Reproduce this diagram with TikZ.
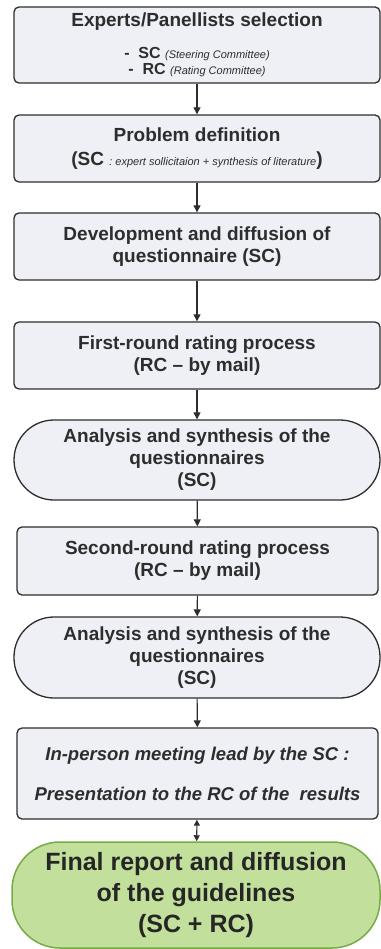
\documentclass[tikz,border=0pt]{standalone}
\usepackage{fontspec}
\setmainfont{Liberation Sans}
\usepackage{tikz}
\usetikzlibrary{arrows.meta,shapes,positioning}
\usepackage{xcolor}
\definecolor{dpgrey}{RGB}{45,45,45}
\definecolor{dpfill}{RGB}{238,240,246}
\definecolor{dpgreen}{RGB}{118,172,70}
\definecolor{dplightgreen}{RGB}{194,224,156}
\tikzstyle{arrow} = [line width=1.1pt,-{Triangle[length=7pt,width=7pt]},color=dpgrey]
\tikzstyle{dblarrow} = [line width=1.1pt,{Triangle[length=6pt,width=6pt]}-{Triangle[length=6pt,width=6pt]},color=dpgrey]
\tikzstyle{stepbox} = [rectangle, rounded corners=5pt, minimum width=366pt, minimum height=67pt, text centered, align=center, draw=dpgrey, fill=dpfill, line width=1.3pt, text=dpgrey, inner sep=0pt, font=\fontsize{19}{22}\selectfont\bfseries]
\tikzstyle{roundbox} = [stepbox, rounded corners=40pt, minimum height=80pt]
\tikzstyle{finalbox} = [roundbox, rounded corners=48pt, draw=dpgreen, fill=dplightgreen, line width=1.5pt, minimum height=106pt, text=black!85, font=\fontsize{25}{31}\selectfont\bfseries]
\newcommand{\smallit}[1]{{\fontsize{11}{13}\selectfont\mdseries\itshape #1}}

\begin{document}
\begin{tikzpicture}[x=1pt,y=-1pt]
\useasboundingbox (0,0) rectangle (380,949);

% Panel selection
\node[stepbox, minimum height=76pt] (select) at (197,45) {
Experts/Panellists selection\\[10pt]
{\fontsize{16}{16}\selectfont - \ SC \smallit{(Steering Committee)}}\\[-6pt]
{\fontsize{16}{16}\selectfont - \ RC \smallit{(Rating Committee)}}
};

% Problem definition
\node[stepbox] (problem) at (197,148.5) {
Problem definition\\[2pt]
(SC \smallit{: expert sollicitaion + synthesis of literature})
};

% Questionnaire
\node[stepbox] (develop) at (197,246.5) {
Development and diffusion of\\questionnaire (SC)
};

% Rating rounds and analyses
\node[stepbox] (round1) at (197,355.5) {
First-round rating process\\(RC -- by mail)
};
\node[roundbox] (analysis1) at (197,460) {
Analysis and synthesis of the\\questionnaires\\(SC)
};
\node[stepbox, minimum width=361pt, minimum height=68pt] (round2) at (197.5,561) {
Second-round rating process\\(RC -- by mail)
};
\node[roundbox, minimum height=81pt] (analysis2) at (197,657.5) {
Analysis and synthesis of the\\questionnaires\\(SC)
};

% Meeting
\node[stepbox, minimum width=361pt, minimum height=91pt, font=\fontsize{18.5}{22}\selectfont\bfseries\itshape] (meeting) at (197.5,773.5) {
In-person meeting lead by the SC :\\[18pt]
Presentation to the RC of the \ results
};

% Final report
\node[finalbox, minimum width=368pt] (final) at (196,895) {
Final report and diffusion\\of the guidelines\\(SC + RC)
};

% Arrows
\draw[arrow] (select) -- (problem);
\draw[arrow] (problem) -- (develop);
\draw[arrow] (develop) -- (round1);
\draw[arrow] (round1) -- (analysis1);
\draw[arrow] (analysis1) -- (round2);
\draw[arrow] (round2) -- (analysis2);
\draw[arrow] (analysis2) -- (meeting);
\draw[dblarrow] (meeting) -- (final);
\end{tikzpicture}
\end{document}
